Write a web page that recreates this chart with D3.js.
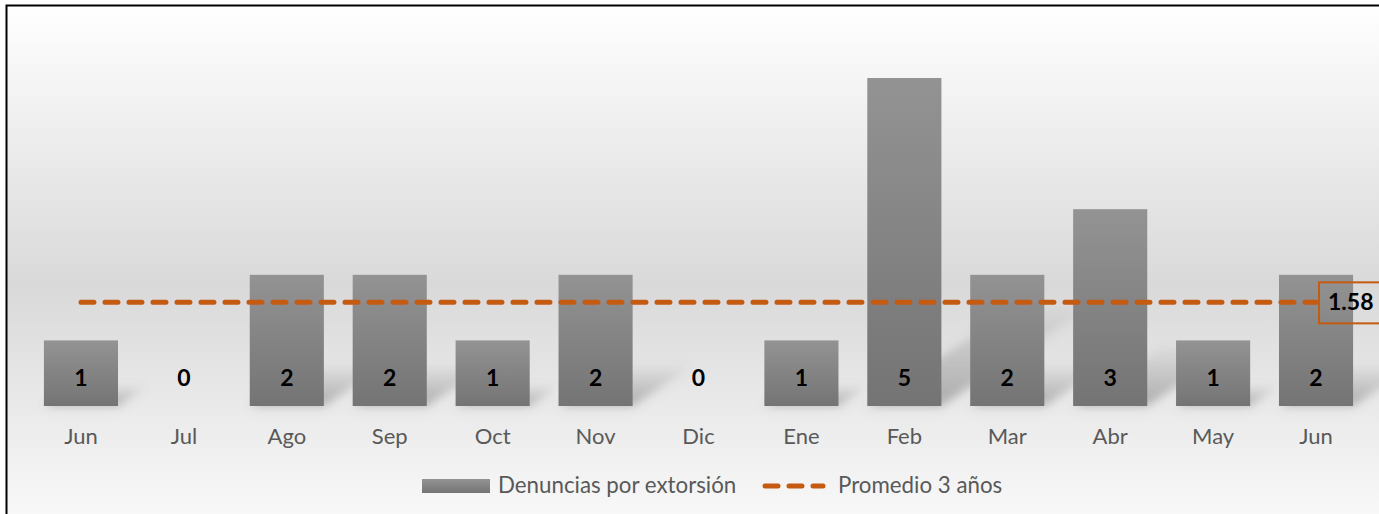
<!DOCTYPE html>
<html>
<head>
<meta charset="utf-8">
<script src="https://cdn.jsdelivr.net/npm/d3@7"></script>
<style>
  body { margin: 0; background: #fff; }
  svg { display: block; font-family: Lato, "Open Sans", sans-serif; }
</style>
</head>
<body>
<div id="chart"></div>
<script>
// data
const months = ["Jun", "Jul", "Ago", "Sep", "Oct", "Nov", "Dic", "Ene", "Feb", "Mar", "Abr", "May", "Jun"];
const denuncias = [1, 0, 2, 2, 1, 2, 0, 1, 5, 2, 3, 1, 2];
const promedio = 1.58;
const legendLabels = ["Denuncias por extorsión", "Promedio 3 años"];

const width = 1379, height = 514;
const orange = "#c55a11";

const svg = d3.select("#chart").append("svg")
    .attr("width", width)
    .attr("height", height);

const defs = svg.append("defs");

var bg = defs.append("linearGradient").attr("id", "bg")
    .attr("x1", 0).attr("y1", 0).attr("x2", 0).attr("y2", 1);
bg.append("stop").attr("offset", "0%").attr("stop-color", "#ffffff");
bg.append("stop").attr("offset", "50%").attr("stop-color", "#d9d9d9");
bg.append("stop").attr("offset", "100%").attr("stop-color", "#ffffff");

var barGrad = defs.append("linearGradient").attr("id", "barGrad")
    .attr("x1", 0).attr("y1", 0).attr("x2", 0).attr("y2", 1);
barGrad.append("stop").attr("offset", "0%").attr("stop-color", "#939393");
barGrad.append("stop").attr("offset", "100%").attr("stop-color", "#747474");

var shadowGrad = defs.append("linearGradient").attr("id", "shadowGrad")
    .attr("x1", 0).attr("y1", 0).attr("x2", 0).attr("y2", 1);
shadowGrad.append("stop").attr("offset", "0%").attr("stop-color", "#6f6f6f").attr("stop-opacity", 0.05);
shadowGrad.append("stop").attr("offset", "100%").attr("stop-color", "#6f6f6f").attr("stop-opacity", 0.5);

defs.append("filter").attr("id", "blur")
    .attr("x", "-20%").attr("y", "-20%").attr("width", "140%").attr("height", "140%")
    .append("feGaussianBlur").attr("stdDeviation", 5);

// chart area background + frame (right/bottom edges run off the picture)
svg.append("rect")
    .attr("x", 6.5).attr("y", 5.5)
    .attr("width", 1400).attr("height", 560)
    .attr("fill", "url(#bg)")
    .attr("stroke", "#000")
    .attr("stroke-width", 2);

const x = d3.scaleBand()
    .domain(d3.range(months.length))
    .range([29.5, 1367.5])
    .paddingInner(0.28)
    .paddingOuter(0.14);

const y = d3.scaleLinear()
    .domain([0, 6])
    .range([406, 12.4]);

const base = y(0);

// perspective shadows
svg.append("g").attr("filter", "url(#blur)")
    .selectAll("path")
    .data(denuncias.map((v, i) => ({v, i})).filter(d => d.v > 0))
    .join("path")
    .attr("d", d => {
        const h = base - y(d.v);
        const x0 = x(d.i), x1 = x(d.i) + x.bandwidth();
        const dx = h * 0.45, dy = h * 0.3;
        return `M${x0},${base} L${x1},${base} L${x1 + dx},${base - dy} L${x0 + dx},${base - dy} Z`;
    })
    .attr("fill", "url(#shadowGrad)");

// bars
svg.append("g")
    .selectAll("rect")
    .data(denuncias)
    .join("rect")
    .attr("x", (d, i) => x(i))
    .attr("y", d => y(d))
    .attr("width", x.bandwidth())
    .attr("height", d => base - y(d))
    .attr("fill", "url(#barGrad)");

// average line
const xFirst = x(0) + x.bandwidth() / 2;
const xLast = x(months.length - 1) + x.bandwidth() / 2;
svg.append("line")
    .attr("x1", xFirst).attr("x2", xLast)
    .attr("y1", y(promedio)).attr("y2", y(promedio))
    .attr("stroke", orange)
    .attr("stroke-width", 5)
    .attr("stroke-linecap", "round")
    .attr("stroke-dasharray", "13,11");

// value labels
svg.append("g")
    .selectAll("text")
    .data(denuncias)
    .join("text")
    .attr("x", (d, i) => x(i) + x.bandwidth() / 2)
    .attr("y", 386)
    .attr("text-anchor", "middle")
    .attr("font-size", 23)
    .attr("font-weight", "bold")
    .attr("fill", "#000")
    .text(d => d);

// average label box
svg.append("rect")
    .attr("x", xLast + 3).attr("y", y(promedio) - 20)
    .attr("width", 70).attr("height", 41)
    .attr("fill", "none")
    .attr("stroke", orange)
    .attr("stroke-width", 2);
svg.append("text")
    .attr("x", xLast + 12).attr("y", y(promedio) + 8)
    .attr("font-size", 23)
    .attr("font-weight", "bold")
    .attr("fill", "#000")
    .text(promedio.toFixed(2));

// month axis labels
svg.append("g")
    .selectAll("text")
    .data(months)
    .join("text")
    .attr("x", (d, i) => x(i) + x.bandwidth() / 2)
    .attr("y", 444)
    .attr("text-anchor", "middle")
    .attr("font-size", 22)
    .attr("fill", "#595959")
    .text(d => d);

// legend
const legend = svg.append("g");
legend.append("rect")
    .attr("x", 422).attr("y", 479)
    .attr("width", 68).attr("height", 14)
    .attr("fill", "url(#barGrad)");
legend.append("text")
    .attr("x", 498).attr("y", 493)
    .attr("font-size", 22.3)
    .attr("fill", "#595959")
    .text(legendLabels[0]);
legend.append("line")
    .attr("x1", 765).attr("x2", 823)
    .attr("y1", 486).attr("y2", 486)
    .attr("stroke", orange)
    .attr("stroke-width", 5)
    .attr("stroke-linecap", "round")
    .attr("stroke-dasharray", "13,11");
legend.append("text")
    .attr("x", 838).attr("y", 493)
    .attr("font-size", 22.3)
    .attr("fill", "#595959")
    .text(legendLabels[1]);
</script>
</body>
</html>
